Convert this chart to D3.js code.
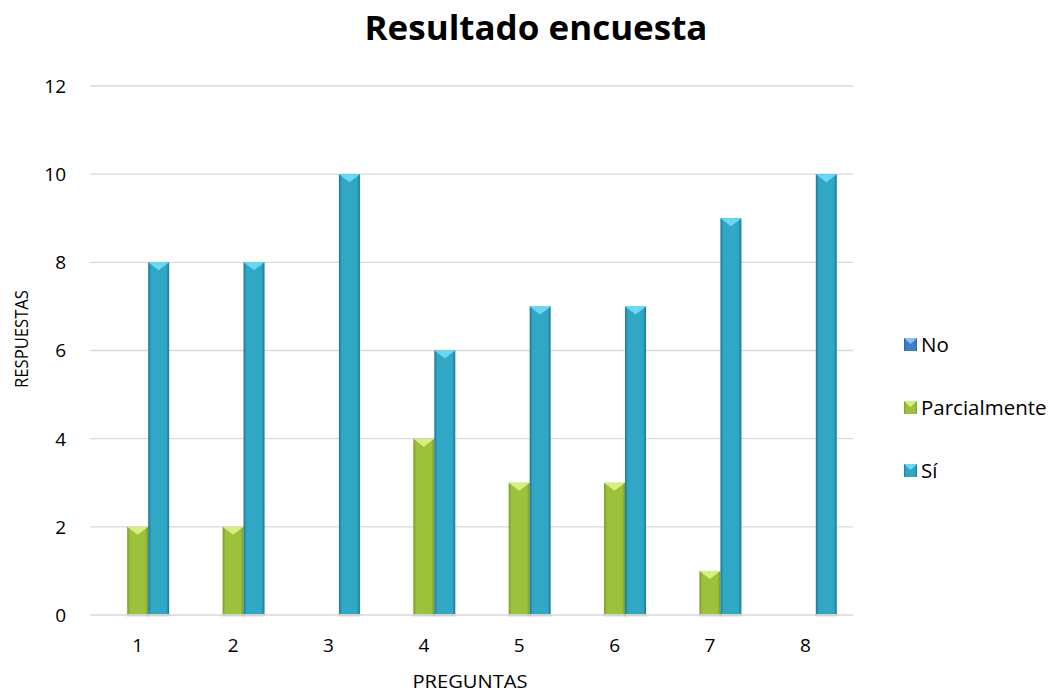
<!DOCTYPE html>
<html>
<head>
<meta charset="utf-8">
<script src="https://cdn.jsdelivr.net/npm/d3@7"></script>
<style>
  body { margin: 0; background: #fff; }
  text { font-family: "Open Sans", "Liberation Sans", sans-serif; fill: #000; }
</style>
</head>
<body>
<div id="chart"></div>
<script>
// chart data
const preguntas = ['1', '2', '3', '4', '5', '6', '7', '8'];
const series = ['No', 'Parcialmente', 'Sí'];
const valoresNo = [0, 0, 0, 0, 0, 0, 0, 0];
const valoresParcial = [2, 2, 0, 4, 3, 3, 1, 0];
const valoresSi = [8, 8, 10, 6, 7, 7, 9, 10];
const yTicks = [0, 2, 4, 6, 8, 10, 12];

const width = 1060;
const height = 694;
const plot = { left: 90, right: 853, top: 86, bottom: 615 };

// colours per series: [dark edge, mid, light cap]
const colors = {
  'No': ['#2a5d9a', '#3f7fc8', '#8fc0ef'],
  'Parcialmente': ['#7a9a28', '#9cc23b', '#d8ee84'],
  'Sí': ['#1b7690', '#30a7c4', '#6ad8f0']
};

const svg = d3.select('#chart').append('svg')
  .attr('width', width)
  .attr('height', height);

const defs = svg.append('defs');
series.forEach((s, i) => {
  const c = colors[s];
  const g = defs.append('linearGradient')
    .attr('id', 'grad' + i)
    .attr('x1', '0%').attr('x2', '100%').attr('y1', '0%').attr('y2', '0%');
  g.append('stop').attr('offset', '0%').attr('stop-color', c[0]);
  g.append('stop').attr('offset', '14%').attr('stop-color', c[1]);
  g.append('stop').attr('offset', '86%').attr('stop-color', c[1]);
  g.append('stop').attr('offset', '100%').attr('stop-color', c[0]);
});

const x = d3.scaleBand()
  .domain(preguntas)
  .range([plot.left, plot.right])
  .paddingInner(0.34)
  .paddingOuter(0.17);

const xs = d3.scaleBand()
  .domain(series)
  .range([0, x.bandwidth()]);

const y = d3.scaleLinear()
  .domain([0, 12])
  .range([plot.bottom, plot.top]);

// gridlines
svg.append('g')
  .selectAll('line')
  .data(yTicks)
  .join('line')
  .attr('x1', plot.left)
  .attr('x2', plot.right)
  .attr('y1', d => y(d))
  .attr('y2', d => y(d))
  .attr('stroke', '#d9d9d9')
  .attr('stroke-width', 1.3);

// y tick labels
svg.append('g')
  .selectAll('text')
  .data(yTicks)
  .join('text')
  .attr('x', 66)
  .attr('y', d => y(d))
  .attr('dy', '0.36em')
  .attr('text-anchor', 'end')
  .style('font-size', '19px')
  .text(d => d);

// x tick labels
svg.append('g')
  .selectAll('text')
  .data(preguntas)
  .join('text')
  .attr('x', d => x(d) + x.bandwidth() / 2)
  .attr('y', 652)
  .attr('text-anchor', 'middle')
  .style('font-size', '19px')
  .text(d => d);

// bars
const rows = preguntas.map((p, i) => ({
  p,
  vals: [valoresNo[i], valoresParcial[i], valoresSi[i]]
}));

const groups = svg.append('g')
  .selectAll('g')
  .data(rows)
  .join('g')
  .attr('transform', d => `translate(${x(d.p)},0)`);

const bars = groups.selectAll('g.bar')
  .data(d => d.vals.map((v, i) => ({ s: series[i], i, v })).filter(b => b.v > 0))
  .join('g')
  .attr('class', 'bar');

// soft shadow at base
bars.append('rect')
  .attr('x', b => xs(b.s) - 1)
  .attr('y', y(0) - 1)
  .attr('width', xs.bandwidth() + 2)
  .attr('height', 3)
  .attr('fill', '#000')
  .attr('opacity', 0.07);

bars.append('rect')
  .attr('x', b => xs(b.s))
  .attr('y', b => y(b.v))
  .attr('width', xs.bandwidth())
  .attr('height', b => y(0) - y(b.v) - 1)
  .attr('fill', b => `url(#grad${b.i})`);

// bevelled cap: light triangle pointing down
const cap = 8;
bars.append('path')
  .attr('d', b => {
    const x0 = xs(b.s);
    const x1 = x0 + xs.bandwidth();
    const t = y(b.v);
    return `M${x0},${t}L${x1},${t}L${(x0 + x1) / 2},${t + cap}Z`;
  })
  .attr('fill', b => colors[b.s][2]);

// title
svg.append('text')
  .attr('x', 536)
  .attr('y', 40)
  .attr('text-anchor', 'middle')
  .attr('textLength', 343)
  .attr('lengthAdjust', 'spacingAndGlyphs')
  .style('font-size', '34px')
  .style('font-weight', 'bold')
  .text('Resultado encuesta');

// axis titles
svg.append('text')
  .attr('x', 470)
  .attr('y', 688)
  .attr('text-anchor', 'middle')
  .attr('textLength', 115)
  .attr('lengthAdjust', 'spacingAndGlyphs')
  .style('font-size', '18px')
  .text('PREGUNTAS');

svg.append('text')
  .attr('transform', 'translate(28,339) rotate(-90)')
  .attr('text-anchor', 'middle')
  .attr('textLength', 98)
  .attr('lengthAdjust', 'spacingAndGlyphs')
  .style('font-size', '18px')
  .text('RESPUESTAS');

// legend
const legend = svg.append('g')
  .selectAll('g')
  .data(series)
  .join('g')
  .attr('transform', (d, i) => `translate(904,${345 + i * 63})`);

legend.append('rect')
  .attr('x', 0)
  .attr('y', -7)
  .attr('width', 13)
  .attr('height', 13)
  .attr('fill', (d, i) => `url(#grad${i})`);
legend.append('path')
  .attr('d', 'M0,-7L13,-7L6.5,-1Z')
  .attr('fill', d => colors[d][2]);
legend.append('text')
  .attr('x', 17)
  .attr('dy', '0.36em')
  .style('font-size', '20.5px')
  .text(d => d);
</script>
</body>
</html>
